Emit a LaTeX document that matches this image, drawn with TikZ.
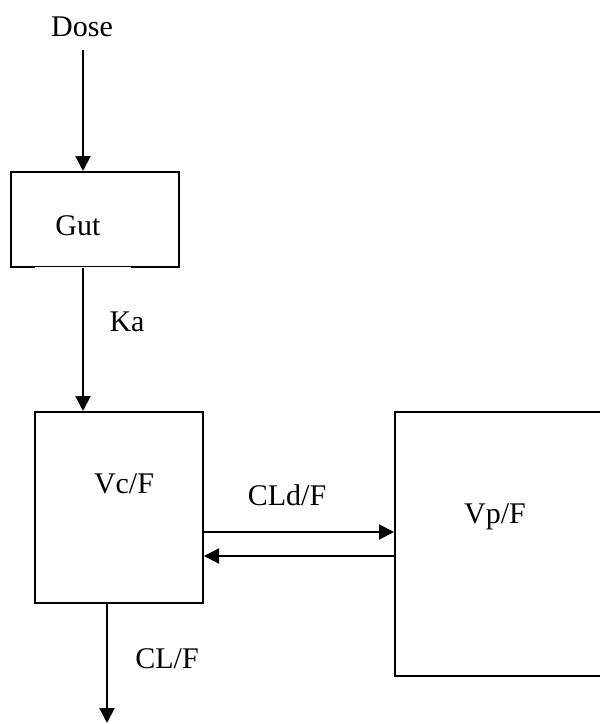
\documentclass[tikz,border=0pt]{standalone}
\usepackage{fontspec}
\setmainfont{Liberation Serif}
\usetikzlibrary{arrows.meta}
\begin{document}
\begin{tikzpicture}[x=1pt,y=-1pt,
  box/.style={draw,line width=2pt,rectangle,inner sep=0pt},
  lbl/.style={font=\fontsize{30}{36}\selectfont,anchor=base,inner sep=0pt},
  arr/.style={line width=2pt,-{Triangle[width=15pt,length=15pt]}}]
\useasboundingbox (0,0) rectangle (600,724);
\clip (0,0) rectangle (600,724);
\fill[white] (0,0) rectangle (600,724);
% boxes
\node[box,minimum width=168pt,minimum height=95pt] (gut) at (95,219.5) {};
\node[box,minimum width=168pt,minimum height=191pt] (vc) at (119,507.5) {};
\node[box,minimum width=225pt,minimum height=264pt] (vp) at (507.5,544) {};
% thin part of Gut bottom edge
\draw[white,line width=2.4pt] (35,267) -- (131,267);
\draw[line width=0.8pt] (35,266.5) -- (131,266.5);
% labels
\node[lbl] (dose) at (82,36) {Dose};
\node[lbl] (gutl) at (78,235) {Gut};
\node[lbl] (ka) at (127,331) {Ka};
\node[lbl] (vcl) at (124,493) {Vc/F};
\node[lbl] (cld) at (287,505) {CLd/F};
\node[lbl] (vpl) at (495,523) {Vp/F};
\node[lbl] (cl) at (167,668) {CL/F};
% coordinates
\coordinate (d0) at (83,50);
\coordinate (out) at (107,723);
% arrows
\draw[arr] (d0) -- (d0 |- gut.north);
\draw[arr] (d0 |- gut.south) -- (d0 |- vc.north);
\draw[arr] (out |- vc.south) -- (out);
\draw[arr] (vc.east |- 0,532) -- (vp.west |- 0,532);
\draw[arr] (vp.west |- 0,556) -- (vc.east |- 0,556);
\end{tikzpicture}
\end{document}
